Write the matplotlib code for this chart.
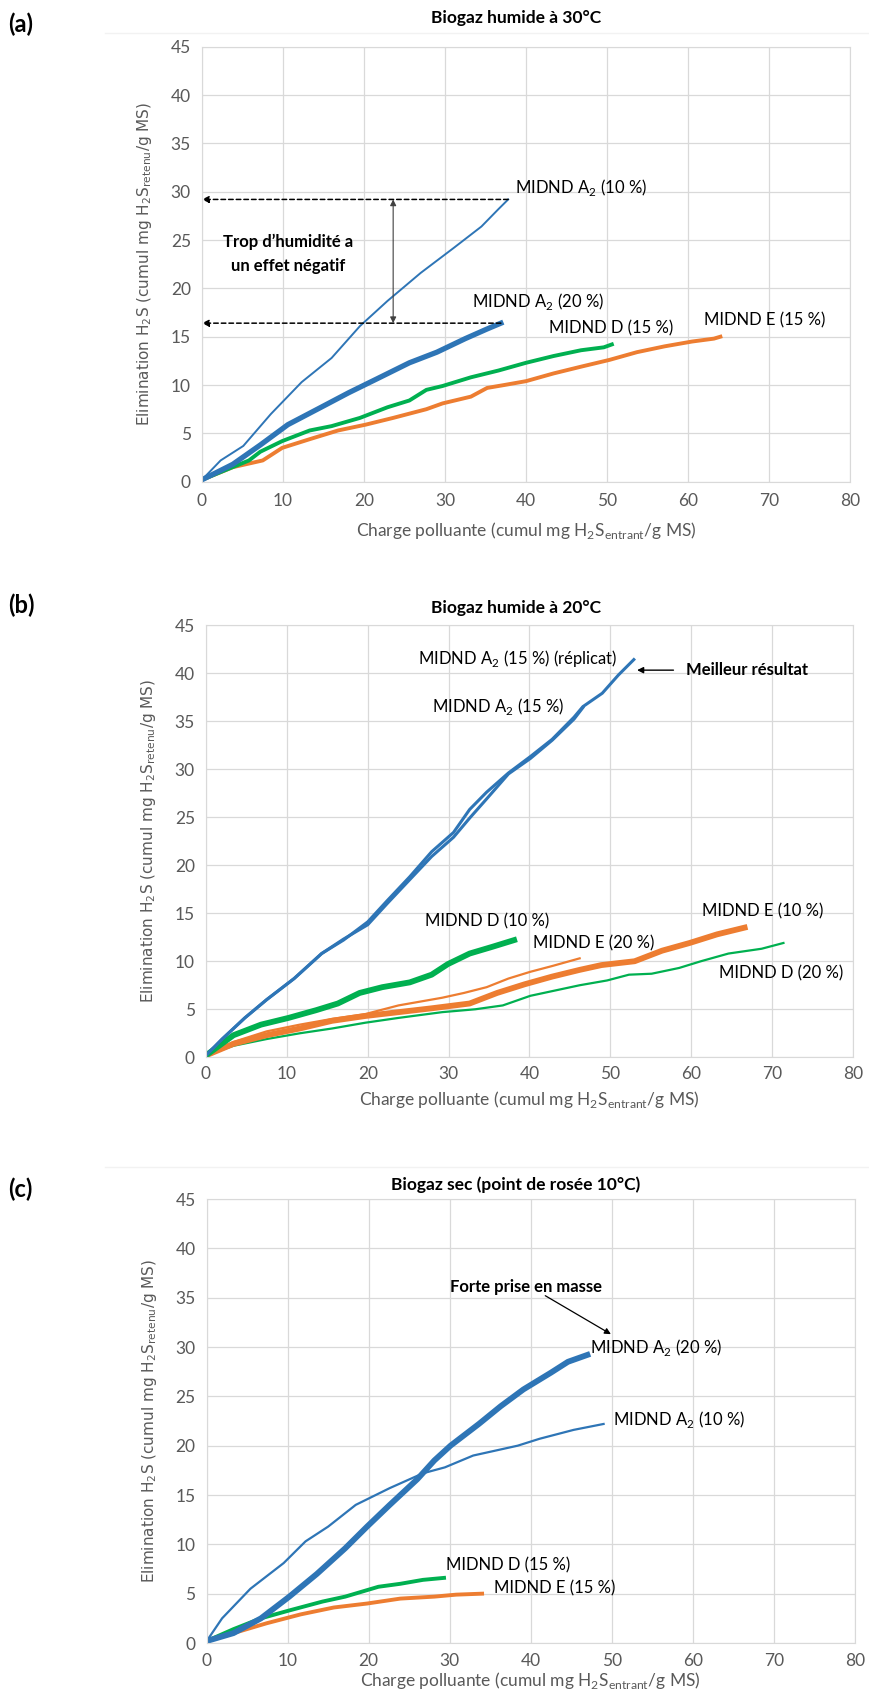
import numpy as np
import matplotlib
matplotlib.use("Agg")
from matplotlib import pyplot as plt
from matplotlib.lines import Line2D

plt.rcParams['font.family'] = ['Lato', 'DejaVu Sans']

BLUE = "#2E75B6"
ORANGE = "#ED7D31"
GREEN = "#00B050"
GRID = "#D9D9D9"
TXT = "#595959"

# ---- (a) Biogaz humide à 30°C ----
a_a2_10_x = [0, 2.3, 5.1, 8.5, 12.3, 16, 19.5, 22.9, 27, 31.1, 34.5, 36.6, 37.8]
a_a2_10_y = [0.2, 2.2, 3.7, 7.0, 10.3, 12.8, 16.1, 18.7, 21.6, 24.2, 26.4, 28.2, 29.2]
a_a2_20_x = [0, 3.8, 7.2, 10.6, 14.7, 18.1, 21.5, 25.6, 29, 32.5, 35.2, 36.9]
a_a2_20_y = [0.2, 1.8, 3.8, 5.9, 7.7, 9.2, 10.6, 12.3, 13.4, 14.8, 15.8, 16.4]
a_d15_x = [0, 5.8, 7.2, 9.9, 13.3, 16, 19.5, 22.9, 25.6, 27.7, 29.7, 33.2, 36.6, 40, 43.4, 46.8, 49.6, 50.6]
a_d15_y = [0.2, 2.2, 3.1, 4.2, 5.3, 5.75, 6.6, 7.7, 8.4, 9.5, 9.9, 10.8, 11.5, 12.3, 13.0, 13.6, 13.9, 14.2]
a_e15_x = [0, 3.8, 7.5, 9.9, 13.3, 16.8, 20.2, 23.6, 27.7, 29.7, 33.2, 35.2, 37.3, 40, 43.4, 46.8,
           50.3, 53.7, 57.1, 60.5, 63.2, 64]
a_e15_y = [0.2, 1.5, 2.2, 3.5, 4.4, 5.3, 5.9, 6.6, 7.5, 8.1, 8.8, 9.7, 10.0, 10.4, 11.2, 11.9,
           12.6, 13.4, 14.0, 14.5, 14.8, 15.0]

# ---- (b) Biogaz humide à 20°C ----
b_a2_15r_x = [0, 2, 4.8, 7.5, 10.9, 14.3, 17, 20, 22.4, 25.2, 27.9, 30.6, 32.6, 34.7, 37.4, 40.1,
              42.8, 45.5, 46.6, 49, 51, 52.9]
b_a2_15r_y = [0.2, 1.9, 4.1, 6.0, 8.2, 10.8, 12.2, 14.1, 16.3, 18.8, 21.4, 23.4, 25.8, 27.6, 29.6, 31.3,
              33.1, 35.4, 36.5, 37.9, 39.8, 41.4]
b_a2_15_x = [0, 2, 4.8, 7.5, 10.9, 14.3, 17, 20, 22.4, 25.2, 27.9, 30.6, 32.6, 34.7, 37.4, 40.1,
             42.8, 45.5, 46.6]
b_a2_15_y = [0.2, 1.9, 4.1, 6.0, 8.2, 10.8, 12.3, 13.8, 16.0, 18.5, 20.9, 22.9, 24.9, 26.9, 29.5, 31.1,
             33.0, 35.2, 36.4]
b_d10_x = [0, 3.4, 6.8, 10.2, 13.6, 16.3, 19, 21.8, 25.2, 27.9, 29.9, 32.6, 35.4, 38.1]
b_d10_y = [0.2, 2.3, 3.4, 4.1, 4.9, 5.6, 6.7, 7.3, 7.8, 8.6, 9.7, 10.8, 11.5, 12.2]
b_e20_x = [0, 3.4, 7.5, 11.6, 15.6, 19.7, 23.8, 26.5, 29.2, 31.9, 34.7, 37.4, 40.1, 42.8, 46.2]
b_e20_y = [0.2, 1.6, 2.7, 3.4, 4.0, 4.5, 5.4, 5.8, 6.2, 6.7, 7.3, 8.2, 8.9, 9.5, 10.3]
b_e10_x = [0, 3.4, 7.5, 11.6, 15.6, 19.7, 23.8, 27.9, 32.6, 36, 39.4, 42.8, 46.2, 48.9, 53,
           56.4, 59.8, 63.2, 66.6]
b_e10_y = [0.2, 1.4, 2.3, 3.0, 3.8, 4.3, 4.7, 5.1, 5.6, 6.7, 7.6, 8.4, 9.1, 9.6, 10.0,
           11.1, 11.9, 12.8, 13.5]
b_d20_x = [0, 3.4, 7.5, 11.6, 15.6, 19.7, 23.8, 29.2, 33.3, 36.7, 40.1, 46.2, 49.6, 52.3, 55.1,
           58.5, 61.2, 64.6, 68.7, 71.4]
b_d20_y = [0.2, 1.2, 1.9, 2.5, 3.0, 3.6, 4.1, 4.7, 5.0, 5.4, 6.4, 7.5, 8.0, 8.6, 8.7,
           9.3, 10.0, 10.8, 11.3, 11.9]

# ---- (c) Biogaz sec (point de rosée 10°C) ----
c_a2_20_x = [0, 3.3, 6.7, 10.2, 13.6, 17.1, 19.8, 22.6, 26, 28.1, 30.1, 33.6, 36.3, 39.1, 42.5, 44.6, 47]
c_a2_20_y = [0.2, 1.0, 2.5, 4.7, 7.0, 9.6, 11.8, 14.0, 16.6, 18.5, 20.0, 22.2, 24.0, 25.7, 27.4, 28.5, 29.2]
c_a2_10_x = [0, 1.9, 5.4, 9.5, 12.2, 15, 18.4, 22.6, 26.7, 29.4, 32.9, 38.4, 41.1, 45.3, 49]
c_a2_10_y = [0.2, 2.5, 5.5, 8.1, 10.3, 11.8, 14.0, 15.7, 17.2, 17.8, 19.0, 20.0, 20.7, 21.6, 22.2]
c_d15_x = [0, 3.3, 6.7, 10.2, 14.3, 17.1, 21.2, 23.9, 26.7, 29.3]
c_d15_y = [0.2, 1.4, 2.5, 3.3, 4.2, 4.7, 5.7, 6.0, 6.4, 6.6]
c_e15_x = [0, 3.3, 7.4, 11.6, 15.7, 19.8, 23.9, 28.1, 30.8, 34]
c_e15_y = [0.2, 1.0, 2.0, 2.9, 3.6, 4.0, 4.5, 4.7, 4.9, 5.0]

XTICKS = list(range(0, 81, 10))
YTICKS = list(range(0, 46, 5))

SUB = lambda s: r"$_{\mathregular{" + s + "}}$"
XLABEL = "Charge polluante (cumul mg H" + SUB("2") + "S" + SUB("entrant") + "/g MS)"
YLABEL = "Elimination H" + SUB("2") + "S (cumul mg H" + SUB("2") + "S" + SUB("retenu") + "/g MS)"
A2 = "MIDND A" + SUB("2")

W, H = 870, 1704
fig = plt.figure(figsize=(W / 100, H / 100), dpi=100)


def px_axes(x0, x1, ytop, ybot):
    # axes rectangle given in pixels from top-left
    return fig.add_axes([x0 / W, 1 - ybot / H, (x1 - x0) / W, (ybot - ytop) / H])


def style(ax, title, ty, label, ly, xpad=8, xlpad=8):
    ax.set_xlim(0, 80)
    ax.set_ylim(0, 45)
    ax.set_xticks(XTICKS)
    ax.set_yticks(YTICKS)
    ax.grid(True, color=GRID, lw=0.9)
    ax.set_axisbelow(True)
    for s in ax.spines.values():
        s.set_color(GRID)
    ax.tick_params(length=0, labelsize=12.5, colors=TXT, pad=8)
    ax.tick_params(axis='x', pad=xpad)
    ax.set_xlabel(XLABEL, fontsize=12.5, color=TXT, labelpad=xlpad)
    ax.set_ylabel(YLABEL, fontsize=11, color=TXT, family=['DejaVu Sans'], labelpad=12)
    fig.text(516 / W, 1 - ty / H, title, fontsize=12.5, fontweight='bold', ha='center', va='center')
    fig.text(8 / W, 1 - ly / H, label, fontsize=17, fontweight='bold', va='center')


# faint chart-area borders
for yb in [33, 1167]:
    fig.add_artist(Line2D([105 / W, 1], [1 - yb / H] * 2, color="#F2F2F2", lw=1))

# (a)
ax = px_axes(202, 850, 46.7, 481.7)
style(ax, "Biogaz humide à 30°C", 18, "(a)", 24)
ax.plot(a_a2_10_x, a_a2_10_y, color=BLUE, lw=1.4)
ax.plot(a_e15_x, a_e15_y, color=ORANGE, lw=2.8)
ax.plot(a_d15_x, a_d15_y, color=GREEN, lw=2.8)
ax.plot(a_a2_20_x, a_a2_20_y, color=BLUE, lw=3.8)
for yv, xv in [(29.2, 37.8), (16.4, 36.9)]:
    ax.annotate("", xy=(0, yv), xytext=(xv, yv),
                arrowprops=dict(arrowstyle="-|>", ls=(0, (3, 2)), color="black", lw=1.1,
                                shrinkA=0, shrinkB=0, mutation_scale=10))
ax.annotate("", xy=(23.6, 29.2), xytext=(23.6, 16.4),
            arrowprops=dict(arrowstyle="<|-|>", color="#404040", lw=0.8, shrinkA=0, shrinkB=0,
                            mutation_scale=9))
ax.text(10.6, 23.6, "Trop d’humidité a\nun effet négatif", ha='center', va='center',
        fontsize=12, fontweight='bold', linespacing=1.6)
ax.text(38.6, 29.9, A2 + " (10 %)", fontsize=12)
ax.text(33.3, 18.1, A2 + " (20 %)", fontsize=12)
ax.text(42.9, 15.3, "MIDND D (15 %)", fontsize=12)
ax.text(62.0, 16.2, "MIDND E (15 %)", fontsize=12)

# (b)
ax = px_axes(206, 853, 625, 1057.3)
style(ax, "Biogaz humide à 20°C", 608, "(b)", 605, xpad=6, xlpad=5)
ax.plot(b_d20_x, b_d20_y, color=GREEN, lw=1.6)
ax.plot(b_e20_x, b_e20_y, color=ORANGE, lw=1.6)
ax.plot(b_e10_x, b_e10_y, color=ORANGE, lw=4.2)
ax.plot(b_d10_x, b_d10_y, color=GREEN, lw=4.2)
ax.plot(b_a2_15_x, b_a2_15_y, color=BLUE, lw=2.2)
ax.plot(b_a2_15r_x, b_a2_15r_y, color=BLUE, lw=2.2)
ax.text(26.2, 41.5, A2 + " (15 %) (réplicat)", fontsize=12, va='center')
ax.text(27.9, 36.5, A2 + " (15 %)", fontsize=12, va='center')
ax.annotate("", xy=(53.3, 40.3), xytext=(57.8, 40.3),
            arrowprops=dict(arrowstyle="-|>", color="black", lw=1.0, shrinkA=0, shrinkB=0,
                            mutation_scale=9))
ax.text(59.3, 40.3, "Meilleur résultat", fontsize=12, fontweight='bold', va='center')
ax.text(27.1, 14.1, "MIDND D (10 %)", fontsize=12, va='center')
ax.text(40.4, 11.9, "MIDND E (20 %)", fontsize=12, va='center')
ax.text(61.3, 15.2, "MIDND E (10 %)", fontsize=12, va='center')
ax.text(63.4, 8.7, "MIDND D (20 %)", fontsize=12, va='center')

# (c)
ax = px_axes(206.7, 854.7, 1199, 1643)
style(ax, "Biogaz sec (point de rosée 10°C)", 1185, "(c)", 1189, xpad=7, xlpad=1)
ax.plot(c_e15_x, c_e15_y, color=ORANGE, lw=2.8)
ax.plot(c_d15_x, c_d15_y, color=GREEN, lw=2.8)
ax.plot(c_a2_10_x, c_a2_10_y, color=BLUE, lw=1.6)
ax.plot(c_a2_20_x, c_a2_20_y, color=BLUE, lw=4.2)
ax.text(47.3, 29.9, A2 + " (20 %)", fontsize=12, va='center')
ax.text(50.1, 22.7, A2 + " (10 %)", fontsize=12, va='center')
ax.text(29.6, 7.9, "MIDND D (15 %)", fontsize=12, va='center')
ax.text(35.5, 5.5, "MIDND E (15 %)", fontsize=12, va='center')
ax.text(39.4, 36.1, "Forte prise en masse", fontsize=12, fontweight='bold', ha='center', va='center')
ax.annotate("", xy=(49.9, 31.3), xytext=(41.8, 35.2),
            arrowprops=dict(arrowstyle="-|>", color="black", lw=0.9, shrinkA=0, shrinkB=0,
                            mutation_scale=9))

fig.savefig("out.png", dpi=100)
